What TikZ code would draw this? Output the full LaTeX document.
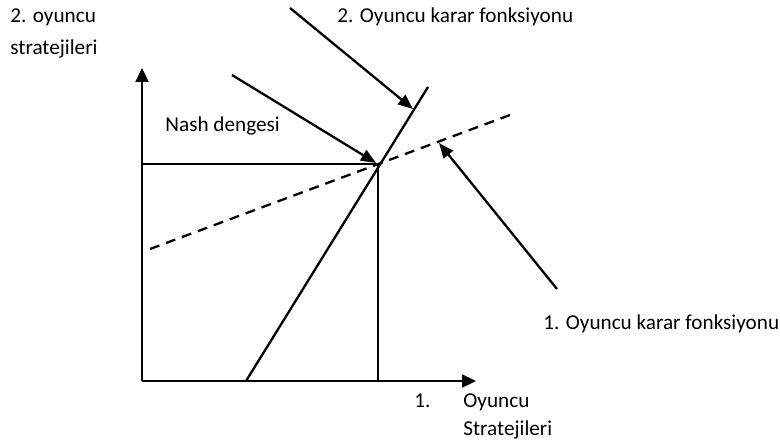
\documentclass[tikz,border=0pt]{standalone}
\usepackage{fontspec}
\setmainfont{Carlito}
\usetikzlibrary{arrows.meta}
\tikzset{
  axis/.style={line width=1.15pt, -{Triangle[length=7pt,width=6.5pt]}},
  pointer/.style={line width=1.15pt, -{Triangle[length=7.5pt,width=6pt]}},
  curveline/.style={line width=1.15pt},
  lbl/.style={anchor=base west, inner sep=0pt, font=\fontsize{10.6}{12}\selectfont},
}

\begin{document}
\begin{tikzpicture}[x=0.5pt,y=-0.5pt]
\useasboundingbox (0,0) rectangle (780,443);
% eksenler
\coordinate (O) at (142,381);
\coordinate (ytop) at (142,68);
\coordinate (xend) at (476,381);
\draw[axis] (O) -- (ytop);
\draw[axis] (O) -- (xend);
% karar fonksiyonlari
\coordinate (r2a) at (246,381);
\coordinate (r2b) at (428,87);
\coordinate (r1a) at (150,249);
\coordinate (r1b) at (510,115);
\draw[curveline] (r2a) -- (r2b);
\draw[curveline, dash pattern=on 5pt off 3.5pt] (r1a) -- (r1b);
% Nash dengesi
\coordinate (N) at (378,164);
\draw[curveline] (O |- N) -- (N) -- (O -| N);
% etiketler
\node[lbl] (ylbla) at (10,23) {2. oyuncu};
\node[lbl] (ylblb) at (10,55) {stratejileri};
\node[lbl] (r2lbl) at (337,23) {2. Oyuncu karar fonksiyonu};
\node[lbl] (nashlbl) at (165,132) {Nash dengesi};
\node[lbl] (r1lbl) at (543,329) {1. Oyuncu karar fonksiyonu};
\node[lbl] (xlbla) at (414,407) {1.};
\node[lbl] (xlblb) at (463,407) {Oyuncu};
\node[lbl] (xlblc) at (463,435) {Stratejileri};
% oklar
\coordinate (p2s) at (290,8);
\coordinate (p2t) at (413,109);
\coordinate (pns) at (232,75);
\coordinate (pnt) at (376,163);
\coordinate (p1s) at (557,289);
\coordinate (p1t) at (439,143);
\draw[pointer] (p2s) -- (p2t);
\draw[pointer] (pns) -- (pnt);
\draw[pointer] (p1s) -- (p1t);
\end{tikzpicture}
\end{document}
